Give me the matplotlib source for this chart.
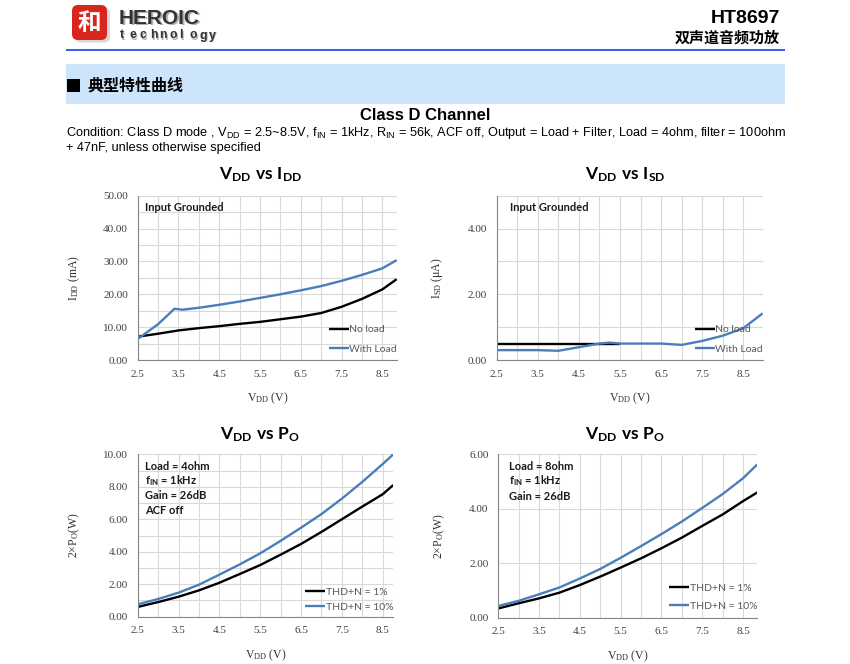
import numpy as np
import matplotlib
matplotlib.use('Agg')
import matplotlib.pyplot as plt
from matplotlib import font_manager as fm
from matplotlib.patches import FancyBboxPatch, Rectangle

# ---------------- data ----------------
# VDD vs IDD
idd_noload_x = [2.5, 3.0, 3.5, 4.0, 4.5, 5.0, 5.5, 6.0, 6.5, 7.0, 7.5, 8.0, 8.5, 8.85]
idd_noload = [7.1, 8.0, 9.0, 9.7, 10.3, 11.0, 11.6, 12.4, 13.2, 14.3, 16.2, 18.6, 21.5, 24.6]
idd_load_x = [2.5, 3.0, 3.3, 3.4, 3.6, 4.0, 4.5, 5.0, 5.5, 6.0, 6.5, 7.0, 7.5, 8.0, 8.5, 8.85]
idd_load = [6.4, 10.9, 14.4, 15.6, 15.3, 15.9, 16.8, 17.8, 18.9, 20.0, 21.2, 22.5, 24.1, 25.9, 27.9, 30.4]

# VDD vs ISD
isd_noload_x = [2.5, 3.0, 3.5, 4.0, 4.5, 5.0, 5.5]
isd_noload = [0.50, 0.50, 0.50, 0.50, 0.50, 0.50, 0.50]
isd_load_x = [2.5, 3.0, 3.5, 4.0, 4.5, 5.0, 5.25, 5.5, 6.0, 6.5, 7.0, 7.5, 8.0, 8.5, 8.97]
isd_load = [0.30, 0.30, 0.30, 0.28, 0.39, 0.50, 0.53, 0.50, 0.50, 0.50, 0.46, 0.58, 0.74, 0.97, 1.42]

# VDD vs PO (4 ohm)
po4_x = [2.5, 3.0, 3.5, 4.0, 4.5, 5.0, 5.5, 6.0, 6.5, 7.0, 7.5, 8.0, 8.5, 8.76]
po4_thd1 = [0.60, 0.90, 1.23, 1.62, 2.09, 2.63, 3.18, 3.82, 4.48, 5.22, 6.00, 6.78, 7.54, 8.11]
po4_thd10 = [0.76, 1.09, 1.48, 1.97, 2.59, 3.22, 3.90, 4.67, 5.48, 6.32, 7.27, 8.30, 9.40, 10.00]

# VDD vs PO (8 ohm)
po8_x = [2.5, 3.0, 3.5, 4.0, 4.5, 5.0, 5.5, 6.0, 6.5, 7.0, 7.5, 8.0, 8.5, 8.85]
po8_thd1 = [0.34, 0.53, 0.71, 0.92, 1.20, 1.51, 1.84, 2.18, 2.55, 2.94, 3.37, 3.79, 4.28, 4.60]
po8_thd10 = [0.43, 0.62, 0.86, 1.11, 1.44, 1.79, 2.20, 2.63, 3.07, 3.53, 4.03, 4.54, 5.12, 5.63]

x_tick_labels = ["2.5", "3.5", "4.5", "5.5", "6.5", "7.5", "8.5"]
idd_ytick_labels = ["0.00", "10.00", "20.00", "30.00", "40.00", "50.00"]
isd_ytick_labels = ["0.00", "2.00", "4.00"]
po4_ytick_labels = ["0.00", "2.00", "4.00", "6.00", "8.00", "10.00"]
po8_ytick_labels = ["0.00", "2.00", "4.00", "6.00"]

idd_series = ["No load", "With Load"]
po_series = ["THD+N = 1%", "THD+N = 10%"]

# ---------------- fonts ----------------
available = {f.name for f in fm.fontManager.ttflist}
NARROW = 'Liberation Sans Narrow' if 'Liberation Sans Narrow' in available else 'Liberation Sans'
SERIF = 'Liberation Serif'
CAL = 'Lato'
CJK = ['Noto Sans CJK SC', 'DejaVu Sans']

plt.rcParams['mathtext.fontset'] = 'custom'
plt.rcParams['mathtext.rm'] = NARROW
plt.rcParams['mathtext.sf'] = SERIF
plt.rcParams['mathtext.bf'] = CAL + ':bold'
plt.rcParams['mathtext.it'] = NARROW

W, H = 850, 664
fig = plt.figure(figsize=(W / 100, H / 100), dpi=100)
fig.patch.set_facecolor('white')

bg = fig.add_axes([0, 0, 1, 1], zorder=0)
bg.set_xlim(0, W)
bg.set_ylim(H, 0)
bg.axis('off')

# ---------------- header ----------------
bg.add_patch(FancyBboxPatch((75, 7.5), 35, 35, boxstyle='round,pad=0,rounding_size=6',
                            fc='#c8c8c8', ec='none', alpha=0.7))
bg.add_patch(FancyBboxPatch((72, 5), 35, 35, boxstyle='round,pad=0,rounding_size=6',
                            fc='#d9261c', ec='none'))
bg.text(89.5, 22.5, '和', color='white', fontsize=17, fontweight='bold', family=CJK,
        ha='center', va='center')
bg.text(120.5, 19.5, 'HEROIC', fontsize=15, fontweight='bold', family='Liberation Sans',
        color='#b0b0b0', va='center', ha='left')
bg.text(119, 18, 'HEROIC', fontsize=15, fontweight='bold', family='Liberation Sans',
        color='#333333', va='center', ha='left')
for i, ch in enumerate('technology'):
    bg.text(121 + i * 9.9, 36.5, ch, fontsize=8.8, fontweight='bold', family='Liberation Sans',
            color='#b0b0b0', va='center', ha='left')
    bg.text(120 + i * 9.9, 35.5, ch, fontsize=8.8, fontweight='bold', family='Liberation Sans',
            color='#333333', va='center', ha='left')

bg.text(780, 18.5, 'HT8697', fontsize=14, fontweight='bold', family='Liberation Sans',
        ha='right', va='center', color='black')
bg.text(780, 38, '双声道音频功放', fontsize=10.8, fontweight='bold', family=CJK,
        ha='right', va='center', color='black')
bg.add_patch(Rectangle((66, 49), 719, 2.4, fc='#3763e8', ec='none'))

bg.add_patch(Rectangle((66, 64), 719, 40, fc='#cde5fb', ec='none'))
bg.add_patch(Rectangle((67, 79), 13, 13, fc='black', ec='none'))
bg.text(88, 85.5, '典型特性曲线', fontsize=11.5, fontweight='bold', family=CJK,
        ha='left', va='center', color='black')

bg.text(425, 116, 'Class D Channel', fontsize=12, fontweight='bold', family='Liberation Sans',
        ha='center', va='center', color='black')
cond1 = bg.text(66, 133, r'Condition: Class D mode , $\mathrm{V_{DD}}$ = 2.5~8.5V, '
                r'$\mathrm{f_{IN}}$ = 1kHz, $\mathrm{R_{IN}}$ = 56k, ACF off, Output = Load + Filter, '
                r'Load = 4ohm, filter = 100ohm', fontsize=9, family=NARROW, ha='left', va='center')
cond2 = bg.text(66, 148.5, '+ 47nF, unless otherwise specified', fontsize=9, family=NARROW,
                ha='left', va='center')
r = fig.canvas.get_renderer()
wcond = cond1.get_window_extent(r).width
fs = 9 * 718 / wcond
cond1.set_fontsize(fs)
cond2.set_fontsize(fs)

# ---------------- charts ----------------
BLUE = '#4a7ebb'
GRID = '#d9d9d9'
SPINE = '#868686'
TXT = '#404040'


def add_axes_px(left, top, right, bottom):
    return fig.add_axes([left / W, 1 - bottom / H, (right - left) / W, (bottom - top) / H],
                        zorder=2)


def style(ax, xmax, ymax, ymajor, yminor, ylabels, ylabel, ylab_px):
    ax.set_facecolor('none')
    ax.set_xlim(2.5, xmax)
    ax.set_ylim(0, ymax)
    ax.set_xticks(np.arange(2.5, 8.51, 1.0))
    ax.set_xticklabels(x_tick_labels, fontfamily=SERIF)
    ax.set_xticks(np.arange(3.0, xmax, 1.0), minor=True)
    ax.set_yticks(np.arange(0, ymax + 1e-9, ymajor)[:len(ylabels)])
    ax.set_yticklabels(ylabels, fontfamily=SERIF)
    if yminor:
        ax.set_yticks(np.arange(0, ymax + 1e-9, yminor), minor=True)
    ax.grid(True, which='both', color=GRID, lw=0.8)
    ax.set_axisbelow(True)
    ax.tick_params(which='both', length=0, labelsize=8, labelcolor=TXT, pad=7)
    for s in ('top', 'right'):
        ax.spines[s].set_visible(False)
    for s in ('left', 'bottom'):
        ax.spines[s].set_color(SPINE)
        ax.spines[s].set_linewidth(0.8)
    bb = ax.get_position()
    wpx = bb.width * W
    hpx = bb.height * H
    ax.set_xlabel(r'$\mathsf{V_{DD}}$ (V)', fontfamily=SERIF, fontsize=8.5, color='#303030')
    ax.xaxis.set_label_coords(0.5, -31 / hpx)
    ax.set_ylabel(ylabel, fontfamily=SERIF, fontsize=8.5, color='#303030')
    ax.yaxis.set_label_coords(-ylab_px / wpx, 0.5)


def legend(ax, labels, dy_px, spacing):
    hpx = ax.get_position().height * H
    ax.legend(ax.lines[:2], labels, loc='lower right', bbox_to_anchor=(1.0, dy_px / hpx),
              frameon=False, borderaxespad=0, borderpad=0, handlelength=1.9,
              handletextpad=0.05, labelspacing=spacing,
              prop={'family': CAL, 'size': 7.5}, labelcolor='#595959')


def note(ax, lines, dx_px, dy_px, step_px=14.7):
    for i, s in enumerate(lines):
        ax.annotate(s, xy=(0, 1), xycoords='axes fraction',
                    xytext=(dx_px * 0.72, -(dy_px + i * step_px) * 0.72),
                    textcoords='offset points', ha='left', va='center',
                    fontfamily=CAL, fontweight='bold', fontsize=8, color='#1a1a1a')


# Top-left: VDD vs IDD
ax1 = add_axes_px(137.7, 195.7, 396.7, 360)
ax1.plot(idd_noload_x, idd_noload, color='black', lw=1.7, solid_capstyle='butt')
ax1.plot(idd_load_x, idd_load, color=BLUE, lw=1.7, solid_capstyle='butt')
style(ax1, 8.85, 50, 10, 5, idd_ytick_labels, r'$\mathsf{I_{DD}}$ (mA)', 56)
legend(ax1, idd_series, 6.0, 1.0)
note(ax1, ['Input Grounded'], 7, 11.5)
bg.text(261, 175, r'$\mathbf{V_{DD}\ vs\ I_{DD}}$', fontsize=12.5, ha='center', va='center')

# Top-right: VDD vs ISD
ax2 = add_axes_px(496.7, 195.7, 762.7, 360)
ax2.plot(isd_noload_x, isd_noload, color='black', lw=1.7, solid_capstyle='butt')
ax2.plot(isd_load_x, isd_load, color=BLUE, lw=1.7, solid_capstyle='butt')
style(ax2, 8.97, 5, 2, 1, isd_ytick_labels, r'$\mathsf{I_{SD}}$ (μA)', 52)
legend(ax2, idd_series, 6.5, 0.95)
note(ax2, ['Input Grounded'], 13, 11.5)
bg.text(625, 175, r'$\mathbf{V_{DD}\ vs\ I_{SD}}$', fontsize=12.5, ha='center', va='center')

# Bottom-left: VDD vs PO 4 ohm
ax3 = add_axes_px(137.7, 454.3, 393.3, 616.7)
ax3.plot(po4_x, po4_thd1, color='black', lw=1.7, solid_capstyle='butt')
ax3.plot(po4_x, po4_thd10, color=BLUE, lw=1.7, solid_capstyle='butt')
style(ax3, 8.76, 10, 2, 1, po4_ytick_labels, r'2×$\mathsf{P_{O}}$(W)', 56)
legend(ax3, po_series, 5.0, 0.55)
note(ax3, ['Load = 4ohm', r'$\mathbf{f_{IN}}$ = 1kHz', 'Gain = 26dB', 'ACF off'], 7, 11.7)
bg.text(260, 435, r'$\mathbf{V_{DD}\ vs\ P_{O}}$', fontsize=12.5, ha='center', va='center')

# Bottom-right: VDD vs PO 8 ohm
ax4 = add_axes_px(498.3, 454.3, 757.3, 617.7)
ax4.plot(po8_x, po8_thd1, color='black', lw=1.7, solid_capstyle='butt')
ax4.plot(po8_x, po8_thd10, color=BLUE, lw=1.7, solid_capstyle='butt')
style(ax4, 8.85, 6, 2, None, po8_ytick_labels, r'2×$\mathsf{P_{O}}$(W)', 51)
legend(ax4, po_series, 7.0, 0.85)
note(ax4, ['Load = 8ohm', r'$\mathbf{f_{IN}}$ = 1kHz', 'Gain = 26dB'], 10.7, 11.7, 15.0)
bg.text(625, 435, r'$\mathbf{V_{DD}\ vs\ P_{O}}$', fontsize=12.5, ha='center', va='center')

fig.savefig('out.png', dpi=100)
